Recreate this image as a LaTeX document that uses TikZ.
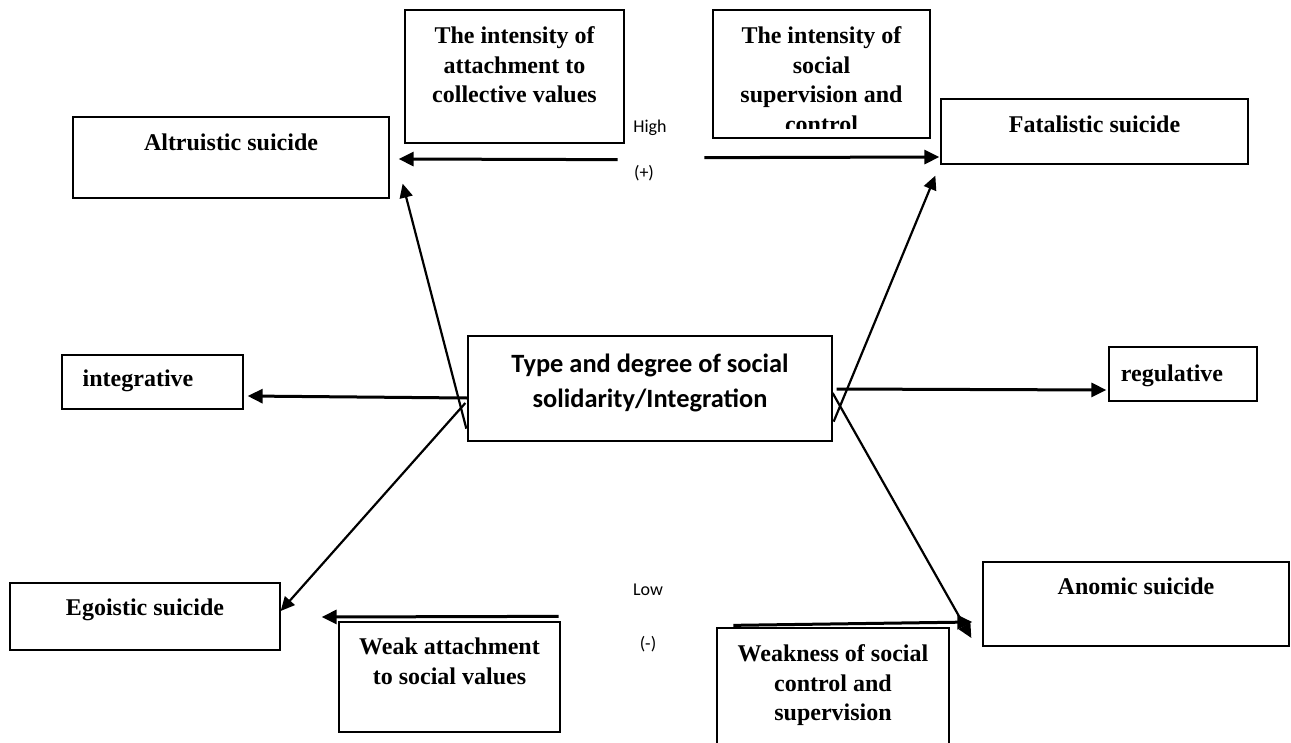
\documentclass[tikz,border=0pt]{standalone}
\usepackage{fontspec}
\setmainfont{Liberation Serif}
\newfontfamily\carlito{Carlito}
\usetikzlibrary{arrows.meta}
\begin{document}
\begin{tikzpicture}[x=1pt,y=-1pt,
  box/.style={draw, line width=1.3pt, inner sep=0pt, rectangle},
  stxt/.style={font=\bfseries\fontsize{24}{29.5}\selectfont, align=center, inner sep=0pt},
  ctxt/.style={font=\carlito\bfseries\fontsize{26.4}{35}\selectfont, align=center, inner sep=0pt},
  lab/.style={font=\carlito\fontsize{18}{22}\selectfont, inner sep=0pt, anchor=base},
  arr/.style={line width=2.2pt, -{Triangle[length=14pt,width=13pt]}},
  harr/.style={line width=3pt, -{Triangle[length=15pt,width=14pt]}}]
\clip (0,0) rectangle (1291,742);
\fill[white] (0,0) rectangle (1291,742);
% boxes
\node[box, minimum width=219pt, minimum height=133pt] (tl) at (514.5,76.5) {};
\node[box, minimum width=217pt, minimum height=128pt] (tr) at (821.5,74) {};
\node[box, minimum width=316pt, minimum height=81pt] (alt) at (231,157.5) {};
\node[box, minimum width=307pt, minimum height=65pt] (fat) at (1094.5,131.5) {};
\node[box, minimum width=181pt, minimum height=54pt] (int) at (152.5,382) {};
\node[box, minimum width=148pt, minimum height=54pt] (reg) at (1183,374) {};
\node[box, minimum width=364pt, minimum height=105pt] (ctr) at (650,388.5) {};
\node[box, minimum width=270pt, minimum height=67pt] (ego) at (145,616.5) {};
\node[box, minimum width=221pt, minimum height=110pt] (weak) at (449.5,677) {};
\node[box, minimum width=306pt, minimum height=84pt] (ano) at (1136,604) {};
\node[box, minimum width=232pt, minimum height=132pt] (wk) at (833,694) {};
% texts
\node[stxt, anchor=north] (tlT) at (514.5,26.7) {The intensity of\\attachment to\\collective values};
\begin{scope}
\clip (713,10) rectangle (930,128.5);
\node[stxt, anchor=north] (trT) at (821.5,26.7) {The intensity of\\social\\supervision and\\control};
\end{scope}
\node[stxt, anchor=base] (altT) at (231,150) {Altruistic suicide};
\node[stxt, anchor=base] (fatT) at (1094.5,132) {Fatalistic suicide};
\node[stxt, anchor=base] (intT) at (138,386) {integrative};
\node[stxt, anchor=base] (regT) at (1172,381) {regulative};
\node[ctxt, anchor=north] (ctrT) at (650,353.6) {Type and degree of social\\solidarity/Integration};
\node[stxt, anchor=base] (egoT) at (145,615) {Egoistic suicide};
\node[stxt, anchor=north] (weakT) at (449.5,637.7) {Weak attachment\\to social values};
\node[stxt, anchor=base] (anoT) at (1136,594) {Anomic suicide};
\node[stxt, anchor=north] (wkT) at (833,644.7) {Weakness of social\\control and\\supervision};
% labels
\node[lab] (high) at (650,132) {High};
\node[lab] (plus) at (644,178) {(+)};
\node[lab] (low) at (648,595) {Low};
\node[lab] (minus) at (648,649) {(-)};
% connectors
\draw[harr] ([xshift=-7pt,yshift=-16pt]tl.south east) -- ([xshift=9pt,yshift=-1.5pt]alt.east);
\draw[harr] ([xshift=-8pt,yshift=-19pt]tr.south west) -- ([xshift=-1pt,yshift=-25.5pt]fat.west);
\draw[arr] ([xshift=-1pt,yshift=13pt]ctr.south west) -- ([xshift=13pt,yshift=15pt]alt.south east);
\draw[arr] ([xshift=1pt,yshift=20pt]ctr.south east) -- ([xshift=-5pt,yshift=-11pt]fat.south west);
\draw[harr] ([yshift=-9.5pt]ctr.west) -- ([xshift=4pt,yshift=-14pt]int.east);
\draw[harr] ([xshift=4pt,yshift=-0.5pt]ctr.east) -- ([xshift=-2pt,yshift=-16pt]reg.west);
\draw[arr] ([xshift=-2pt,yshift=-14.5pt]ctr.west) -- ([yshift=5.5pt]ego.east);
\draw[arr] ([yshift=-4.5pt]ctr.east) -- ([xshift=-11pt,yshift=-34pt]ano.west);
\draw[harr] ([xshift=-2pt,yshift=5pt]weak.north east) -- ([xshift=41pt,yshift=-0.5pt]ego.east);
\draw[harr] ([xshift=17pt,yshift=2pt]wk.north west) -- ([xshift=-10pt,yshift=-18pt]ano.west);
\end{tikzpicture}
\end{document}
